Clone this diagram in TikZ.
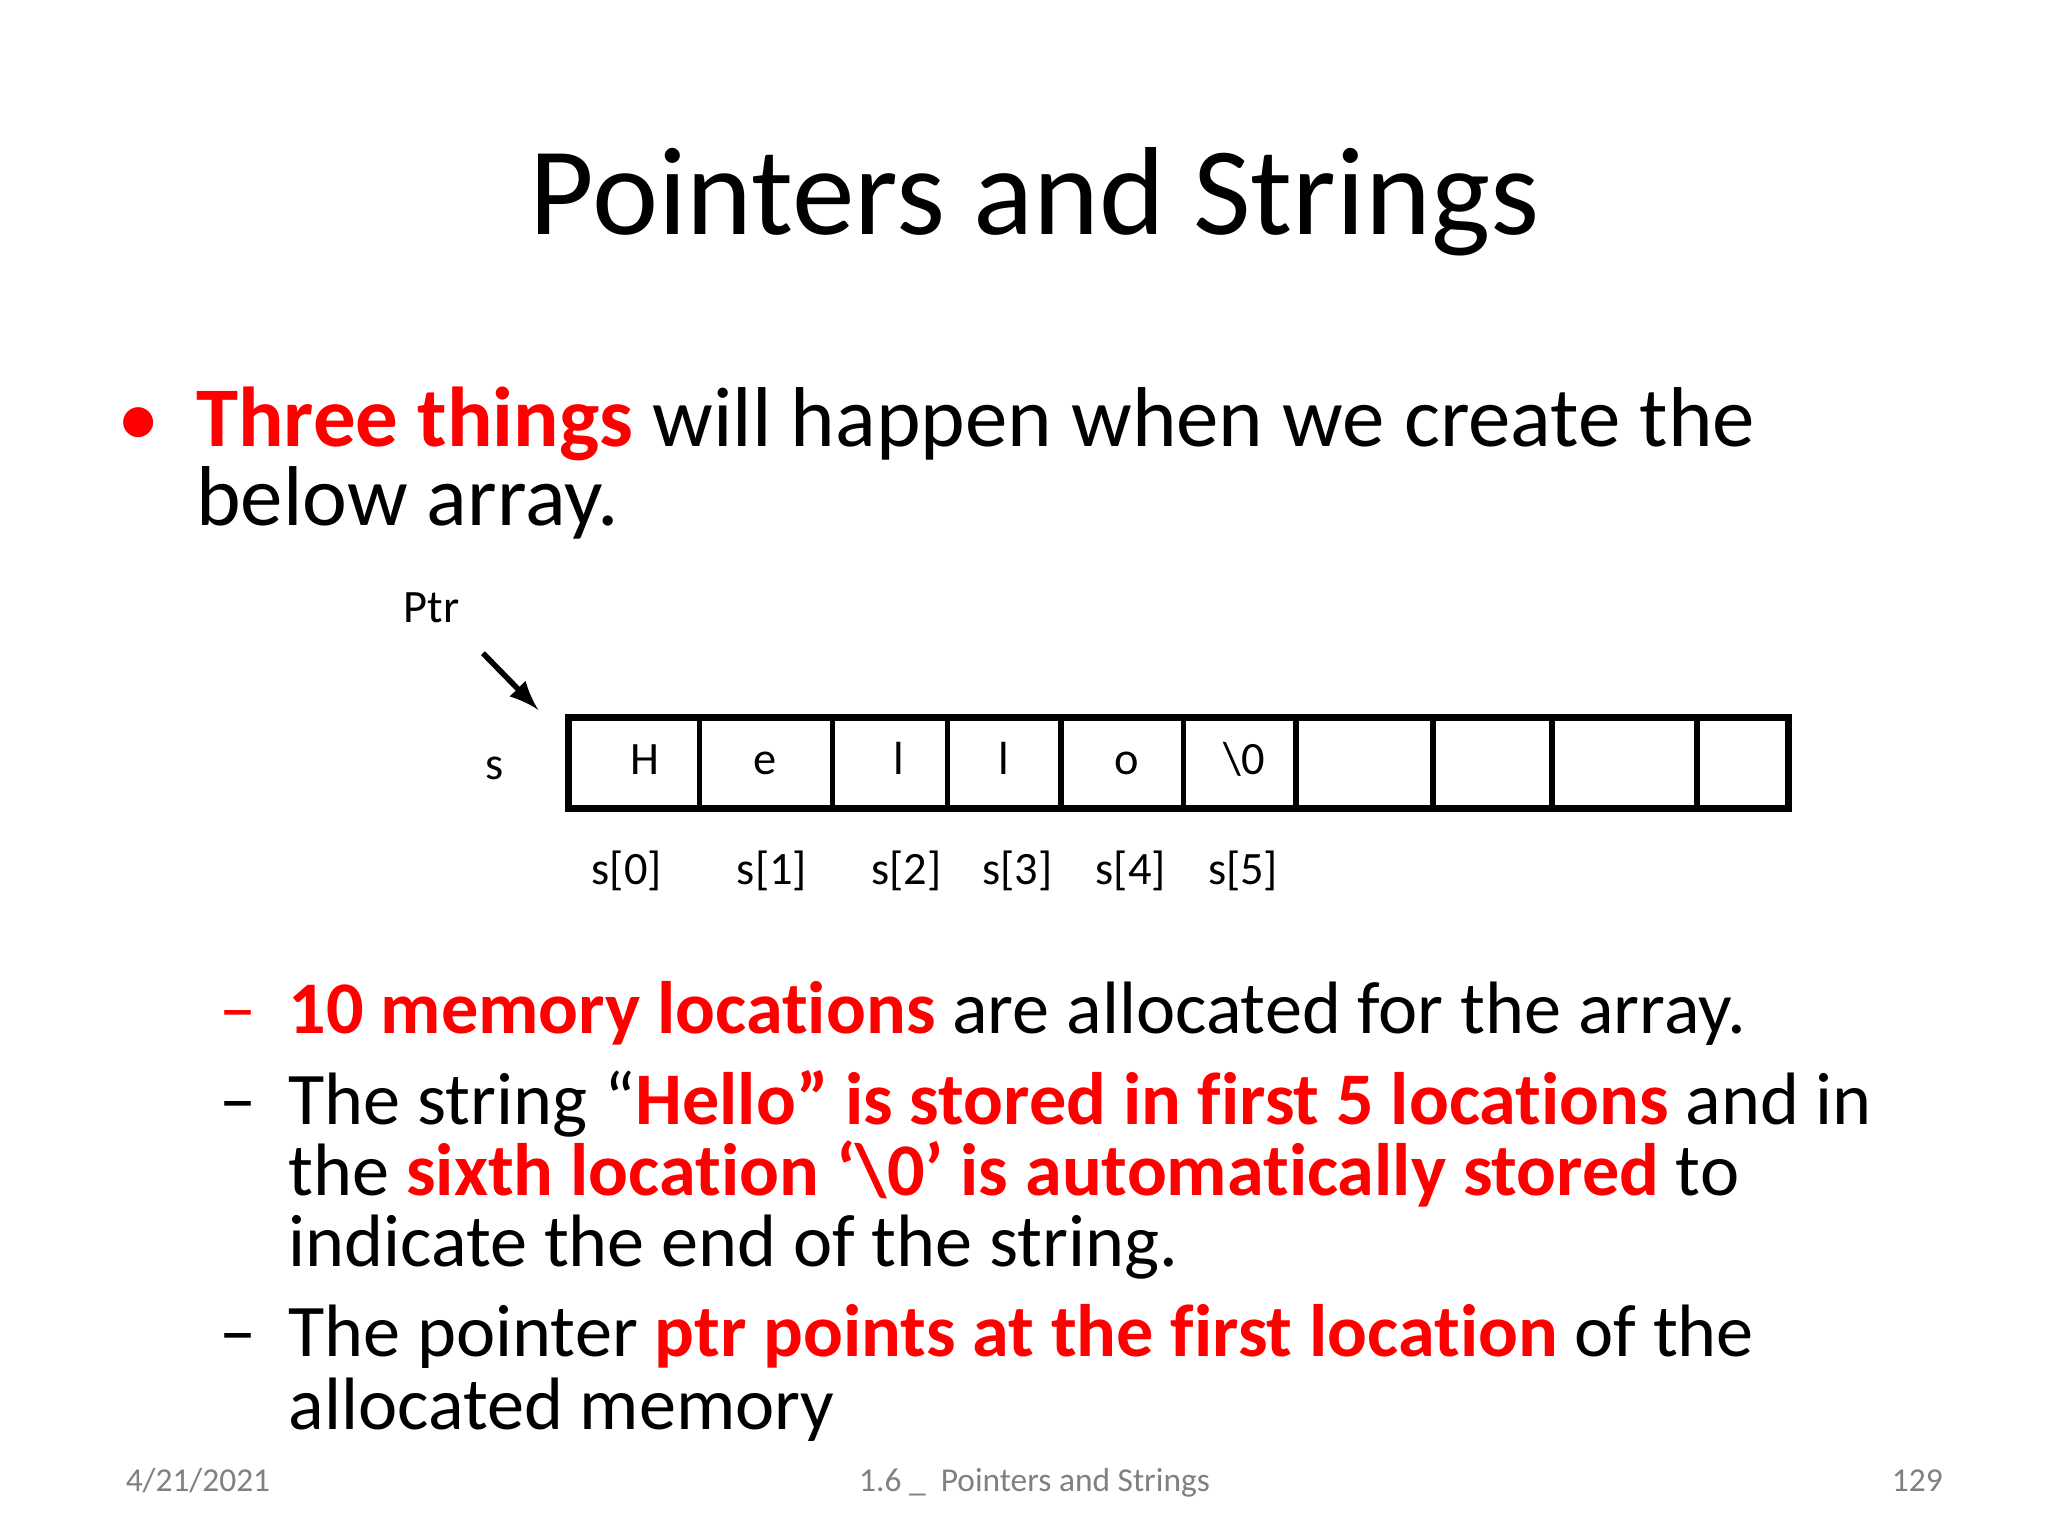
\documentclass[tikz,border=0pt]{standalone}
\usepackage{fontspec}
\setmainfont[Ligatures=NoCommon]{Carlito}
\usepackage{xcolor}
\definecolor{hl}{RGB}{255,0,0}
\begin{document}
\begin{tikzpicture}[x=0.01cm,y=-0.01cm,
  body/.style={anchor=base west,inner sep=0,font=\fontsize{16}{19}\selectfont},
  big/.style={anchor=base west,inner sep=0,font=\fontsize{18.3}{21}\selectfont},
  small/.style={font=\fontsize{10}{12}\selectfont,inner sep=0},
  foot/.style={font=\fontsize{7.2}{9}\selectfont,text=gray,inner sep=0,anchor=base}]
\useasboundingbox[fill=white] (0,0) rectangle (1552,1164);
\node[anchor=base,inner sep=0,font=\fontsize{27}{32}\selectfont] (title) at (784,178) {Pointers and Strings};
\node[big] (b) at (88,338) {\textcolor{hl}{•}};
\node[big] (l1) at (148,338) {\textcolor{hl}{\textbf{Three things}} will happen when we create the};
\node[big] (l2) at (148,398) {below array.};
% array
\node[draw,line width=1.5pt,inner sep=0,anchor=north west,minimum width=9.24cm,minimum height=0.69cm] (arr) at (428,541) {};
\foreach \x in {530,631,718,804,897,982,1086,1176,1286}{
  \draw[line width=1.2pt] (\x,541) -- (\x,610);}
\foreach \x/\t/\n in {489/H/c0,580/e/c1,681/l/c2,761/l/c3,854/o/c4,943/{\textbackslash 0}/c5}{
  \node[small,anchor=base] (\n) at (\x,587) {\t};}
\foreach \x/\t/\n in {475/0/i0,585/1/i1,687/2/i2,771/3/i3,857/4/i4,942/5/i5}{
  \node[small,anchor=base] (\n) at (\x,670) {s[\t]};}
\node[small,anchor=base] (ptr) at (327,472) {Ptr};
\node[small,anchor=base] (s) at (375,591) {s};
\coordinate (pa) at (366,495);
\coordinate (pb) at (408,538);
\draw[-latex,line width=1.2pt] (pa) -- (pb);
% sub items
\node[body] (d1) at (166,783) {\textcolor{hl}{–}};
\node[body] (t1) at (218,783) {\textcolor{hl}{\textbf{10 memory locations}} are allocated for the array.};
\node[body] (d2) at (166,852) {–};
\node[body] (t2) at (218,852) {The string “\textcolor{hl}{\textbf{Hello” is stored in first 5 locations}} and in};
\node[body] (t3) at (218,906) {the \textcolor{hl}{\textbf{sixth location ‘\textbackslash 0’ is automatically stored}} to};
\node[body] (t4) at (218,960) {indicate the end of the string.};
\node[body] (d3) at (166,1028) {–};
\node[body] (t5) at (218,1028) {The pointer \textcolor{hl}{\textbf{ptr points at the first location}} of the};
\node[body] (t6) at (218,1083) {allocated memory};
\node[foot] (f1) at (150,1130) {4/21/2021};
\node[foot] (f2) at (784,1130) {1.6 \_\ \ Pointers and Strings};
\node[foot] (f3) at (1453,1130) {129};
\end{tikzpicture}
\end{document}
